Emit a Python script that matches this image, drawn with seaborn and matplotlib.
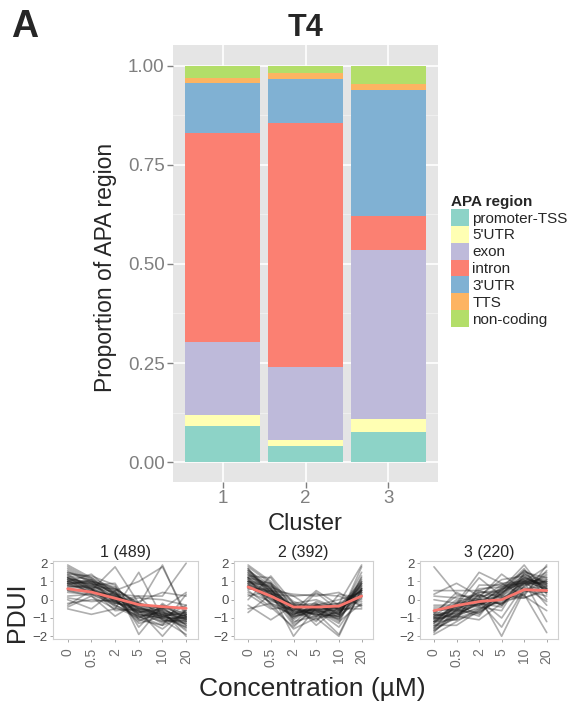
import pandas as pd
import matplotlib
matplotlib.use('Agg')
import matplotlib.pyplot as plt
import seaborn as sns
from matplotlib.patches import Patch

sns.set_theme(style='white')
plt.rcParams['font.family'] = ['Liberation Sans', 'DejaVu Sans']

# Proportions of APA region per cluster
clusters = ['1', '2', '3']
regions = ['promoter-TSS', "5'UTR", 'exon', 'intron', "3'UTR", 'TTS', 'non-coding']
region_colors = ['#8DD3C7', '#FFFFB3', '#BEBADA', '#FB8072', '#80B1D3', '#FDB462', '#B3DE69']
promoter_tss = [0.091, 0.041, 0.075]
utr5 = [0.029, 0.014, 0.033]
exon = [0.182, 0.186, 0.427]
intron = [0.529, 0.614, 0.086]
utr3 = [0.124, 0.111, 0.318]
tts = [0.015, 0.016, 0.014]
non_coding = [0.030, 0.018, 0.047]

# PDUI profiles (representative traces) and cluster means
conc_labels = ['0', '0.5', '2', '5', '10', '20']
cluster_titles = ['1 (489)', '2 (392)', '3 (220)']
mean_c1 = [0.6, 0.42, 0.08, -0.27, -0.38, -0.47]
mean_c2 = [0.7, 0.2, -0.4, -0.4, -0.35, 0.2]
mean_c3 = [-0.6, -0.32, -0.1, 0.0, 0.55, 0.5]

profiles_c1 = [
    [1.9, 1.2, 0.6, -0.2, -0.5, -1.2], [1.5, 1.0, 0.3, -0.5, -0.8, -1.0],
    [1.2, 0.8, 0.2, -0.8, -1.0, -1.5], [1.0, 0.6, 0.0, -1.0, -0.6, -0.9],
    [0.9, 0.9, 0.4, -0.6, -1.3, -0.8], [0.8, 0.5, -0.2, -0.4, -0.9, -1.3],
    [1.3, 1.1, 0.5, -1.5, -0.2, -1.1], [0.6, 0.4, 0.2, -0.2, -0.7, -1.7],
    [1.1, 0.3, -0.3, -0.9, -1.6, -0.6], [0.7, 0.7, 0.6, -0.3, -0.4, -1.4],
    [1.6, 0.9, -0.1, -0.7, -0.9, -0.7], [1.4, 1.3, 0.8, -1.9, -0.3, -1.0],
    [0.5, 0.2, -0.5, -0.6, -2.0, -0.5], [1.0, 1.4, 0.3, 0.2, -1.1, -1.9],
    [1.2, 0.5, 0.0, -1.2, -0.5, -0.4], [0.9, 0.6, -0.6, -0.5, -1.2, -1.1],
    [1.7, 1.0, 0.7, -0.4, -0.8, -1.6], [0.4, 0.3, 0.1, -0.7, -0.3, -0.8],
    [1.1, 0.8, 0.9, -1.1, -1.4, 0.3], [0.8, 1.1, -0.2, -0.3, -0.6, -2.0],
    [1.0, 0.9, 0.1, -0.6, -0.9, -1.2], [1.3, 0.7, 0.4, -0.9, -0.7, -0.9],
    [0.9, 0.4, -0.1, -0.8, -1.0, -1.0], [1.5, 1.2, 0.2, -0.3, -1.1, -1.3],
    [0.7, 0.8, 0.0, -1.1, -0.8, -0.6], [1.2, 0.9, 0.5, -0.5, -0.6, -1.4],
    [0.8, 0.6, -0.3, -0.9, -1.4, -0.9], [1.1, 1.0, 0.3, -0.7, -0.5, -1.1],
    [1.4, 0.6, 0.1, -1.3, -0.9, -0.7], [0.6, 0.5, 0.2, -0.4, -1.1, -1.2],
    [1.0, 0.7, -0.1, -0.6, -0.8, -1.5], [1.8, 1.1, 0.4, -0.8, -1.2, -0.8],
    [0.9, 1.0, 0.6, -0.2, -1.0, -1.0], [1.2, 0.6, -0.4, -1.0, -0.4, -0.9],
    [0.5, 0.4, 0.3, -0.5, -0.7, -1.1],
    [-0.5, -0.8, -0.5, 1.5, -1.0, -0.3], [-0.3, 0.5, 1.8, -0.2, -0.5, 0.4],
    [0.1, -0.1, 0.0, -0.3, 1.9, -1.0], [-0.2, 0.0, -0.1, 0.2, 0.2, 2.0],
    [0.0, -0.5, 0.5, 1.0, 1.8, -0.8], [-0.4, 0.2, -0.9, -0.1, 0.4, 0.2],
    [0.2, 0.3, -0.2, 0.1, 0.0, -0.3],
]
profiles_c2 = [
    [1.9, 1.0, -0.5, -0.6, -0.8, 1.2], [1.5, 0.6, -0.8, -0.3, -0.5, 0.8],
    [1.2, 0.9, -1.2, -0.9, -0.3, 0.5], [1.0, 0.3, -0.3, -0.2, -1.0, 1.8],
    [0.8, 0.0, -0.6, -1.0, -0.7, 0.2], [1.4, 0.4, -2.0, -0.4, -0.2, 0.0],
    [0.6, 0.5, -0.4, -0.7, -1.9, 0.6], [1.1, -0.2, -0.9, 0.4, -0.6, -0.3],
    [0.9, 0.8, -0.2, -1.4, -0.4, 1.0], [1.7, 0.2, -0.7, -0.5, -1.2, -0.2],
    [0.5, -0.4, -1.5, -0.3, 0.0, 0.4], [1.3, 1.2, -0.5, -0.8, -0.9, 1.5],
    [0.7, 0.1, -1.0, -0.1, -0.5, -0.5], [1.0, 0.7, 0.2, -0.6, -1.5, 0.3],
    [0.4, -0.1, -0.3, -0.9, -0.2, 1.9], [1.6, 0.6, -1.3, -0.2, -0.8, 0.9],
    [0.8, 0.4, -0.6, 0.5, -0.3, -0.1], [1.2, -0.3, -0.8, -0.4, -1.1, 0.7],
    [0.3, -0.5, -0.4, -1.2, 0.3, 0.1], [1.8, 0.9, -0.1, -0.5, -0.6, 0.4],
    [1.2, 0.5, -0.6, -0.6, -0.7, 0.6], [1.0, 0.4, -0.8, -0.5, -0.6, 0.9],
    [1.4, 0.7, -0.5, -0.8, -0.9, 0.4], [0.9, 0.2, -1.0, -0.4, -0.5, 0.7],
    [1.6, 0.8, -0.7, -0.7, -0.8, 1.1], [1.1, 0.1, -0.4, -0.9, -1.0, 0.3],
    [0.7, 0.3, -0.9, -0.6, -0.4, 0.5], [1.3, 0.6, -1.1, -0.3, -0.7, 0.8],
    [0.8, -0.2, -0.6, -0.8, -0.9, 0.1], [1.5, 0.5, -0.3, -0.6, -1.3, 1.3],
    [1.0, 0.9, -0.7, -1.1, -0.6, 0.6], [1.2, 0.3, -1.4, -0.5, -0.4, 0.2],
    [0.6, 0.6, -0.5, -0.3, -0.8, 1.0], [1.7, 0.4, -0.9, -0.7, -0.5, 0.5],
    [0.9, 0.0, -0.2, -0.5, -1.1, 0.9],
    [-0.7, 0.3, 0.2, 0.3, 0.2, -0.3], [-0.3, -1.1, -0.3, -0.3, -0.2, 0.5],
    [0.2, 0.5, 0.3, 0.2, 0.4, -0.4], [0.0, 1.3, -0.2, 0.0, -0.5, 0.2],
    [-0.5, -0.2, -1.6, -1.0, -2.0, 0.6],
]
profiles_c3 = [
    [-1.9, -1.2, -0.5, 0.2, 1.2, 0.8], [-1.5, -0.8, -0.2, 0.6, 1.9, 0.3],
    [-1.2, -0.6, 0.3, -0.3, 0.9, 1.5], [-1.0, -0.3, -0.8, 0.4, 1.0, 1.0],
    [-0.8, -1.0, 0.1, 1.4, 0.5, 0.2], [-1.3, -0.1, -0.4, -0.6, 1.4, 0.6],
    [-0.6, -0.5, 0.5, 0.9, 0.2, 1.9], [-1.7, -0.9, -1.1, -0.2, 0.7, -0.1],
    [-0.9, 0.0, -0.3, 0.3, 1.6, 0.9], [-1.1, -0.7, 0.0, -1.0, 0.8, 1.3],
    [-0.4, -0.4, 0.6, 0.7, 1.1, -0.3], [-1.4, -1.4, -0.6, 0.0, 0.4, 1.1],
    [-0.7, 0.2, 0.2, 1.1, 1.3, 0.5], [-1.0, -0.9, -0.1, -1.5, 0.6, 0.7],
    [-1.6, -0.2, 0.4, 0.5, 1.7, 0.0], [-0.5, -0.6, -0.7, 0.1, 0.3, 1.6],
    [-1.2, -1.1, 0.8, 0.8, 0.9, 0.4], [-0.8, 0.4, -0.2, -0.4, 1.5, 1.2],
    [-0.3, -0.3, 1.2, 0.2, 0.1, 0.6], [-1.8, -0.5, -0.9, 0.6, 1.0, 1.8],
    [-1.2, -0.7, -0.3, 0.3, 1.1, 0.8], [-1.0, -0.5, 0.0, 0.2, 0.9, 0.9],
    [-1.4, -0.9, -0.4, 0.5, 1.3, 0.6], [-0.9, -0.6, -0.2, 0.0, 1.0, 1.1],
    [-1.6, -1.0, -0.6, 0.4, 1.2, 0.7], [-1.1, -0.4, 0.1, 0.6, 0.8, 1.0],
    [-0.7, -0.8, -0.5, -0.1, 1.1, 0.5], [-1.3, -0.6, 0.2, 0.3, 1.4, 0.9],
    [-1.5, -0.3, -0.3, 0.7, 0.9, 1.2], [-0.8, -0.9, 0.3, -0.3, 1.0, 0.6],
    [-1.2, -0.2, -0.1, 0.5, 1.6, 0.8], [-1.0, -1.1, -0.7, 0.1, 0.7, 1.4],
    [-0.6, -0.4, 0.4, 0.4, 1.2, 0.7], [-1.7, -0.8, -0.2, -0.2, 0.9, 1.0],
    [-0.9, -0.5, 0.0, 0.8, 1.5, 0.4],
    [1.8, 0.3, 0.0, -0.2, 0.3, -1.8], [0.5, 0.5, 0.5, 0.1, 0.2, -0.6],
    [0.3, 0.9, 0.2, -2.0, 0.5, 0.4], [0.0, -0.2, 1.5, 0.9, 1.0, -1.2],
    [0.2, 0.1, -0.1, 0.0, 0.1, 0.5],
]

W, H = 571, 709
fig = plt.figure(figsize=(W / 100, H / 100), dpi=100)


def px_axes(x0, y0, x1, y1):
    return fig.add_axes([x0 / W, 1 - y1 / H, (x1 - x0) / W, (y1 - y0) / H])


# ---- stacked bar chart ----
ax = px_axes(173, 45, 438, 482)
ax.set_facecolor('#E5E5E5')
layers = [promoter_tss, utr5, exon, intron, utr3, tts, non_coding]
df = pd.DataFrame(dict(zip(regions, layers)), index=clusters)
cum = df.cumsum(axis=1)
# draw the tallest (cumulative) bar first, then overlay the lower layers
for reg, col in reversed(list(zip(regions, region_colors))):
    sns.barplot(x=clusters, y=cum[reg].values, color=col, saturation=1,
                width=0.9, linewidth=0, ax=ax, zorder=3)
ax.set_xlim(-0.6, 2.6)
ax.set_ylim(-0.05, 1.052)
ax.set_yticks([0, 0.25, 0.5, 0.75, 1.0])
ax.set_yticklabels(['0.00', '0.25', '0.50', '0.75', '1.00'])
ax.set_yticks([0.125, 0.375, 0.625, 0.875], minor=True)
ax.grid(True, which='major', color='white', lw=1.2, zorder=0)
ax.grid(True, which='minor', axis='y', color='#F2F2F2', lw=0.6, zorder=0)
ax.set_axisbelow(True)
for s in ax.spines.values():
    s.set_visible(False)
ax.tick_params(axis='both', which='major', length=4, width=1, color='#7F7F7F',
               labelcolor='#7F7F7F', labelsize=13.5, pad=2, bottom=True, left=True)
ax.tick_params(which='minor', length=0)
ax.set_xlabel('Cluster', fontsize=17, labelpad=4)
ax.set_ylabel('Proportion of APA region', fontsize=16.5)
ax.yaxis.set_label_coords(-0.21, 0.49)

fig.text(25 / W, 1 - 27 / H, 'A', fontsize=27, fontweight='bold', ha='center', va='center')
fig.text(306 / W, 1 - 28 / H, 'T4', fontsize=22, fontweight='bold', ha='center', va='center')

handles = [Patch(facecolor=c, edgecolor='none', label=r) for r, c in zip(regions, region_colors)]
fig.legend(handles=handles, loc='upper left', bbox_to_anchor=(451 / W, 1 - 195 / H),
           frameon=False, fontsize=11, title='APA region',
           title_fontproperties={'weight': 'bold', 'size': 11},
           handlelength=1.2, handleheight=1.32, labelspacing=0, handletextpad=0.2,
           borderpad=0, borderaxespad=0, alignment='left')

# ---- PDUI profile panels ----
panel_x = [(53, 198), (234, 373), (420, 558)]
profile_sets = [profiles_c1, profiles_c2, profiles_c3]
means = [mean_c1, mean_c2, mean_c3]
positions = list(range(len(conc_labels)))
for i, (x0, x1) in enumerate(panel_x):
    pax = px_axes(x0, 561, x1, 639)
    pax.set_facecolor('white')
    rows = []
    for u, prof in enumerate(profile_sets[i]):
        for p, v in zip(positions, prof):
            rows.append({'unit': u, 'pos': p, 'pdui': v})
    long_df = pd.DataFrame(rows)
    sns.lineplot(data=long_df, x='pos', y='pdui', units='unit', estimator=None,
                 color='#1A1A1A', alpha=0.35, lw=1.2, ax=pax)
    sns.lineplot(x=positions, y=means[i], color='#F8766D', lw=2, ax=pax)
    pax.set_xlim(-0.62, 5.5)
    pax.set_ylim(-2.15, 2.12)
    pax.set_xticks(positions)
    pax.set_xticklabels(conc_labels, rotation=90)
    pax.set_yticks([-2, -1, 0, 1, 2])
    pax.set_yticklabels(['\u22122', '\u22121', '0', '1', '2'])
    pax.set_xlabel('')
    pax.set_ylabel('')
    pax.set_title(cluster_titles[i], fontsize=11.5, pad=3)
    for s in pax.spines.values():
        s.set_color('#D0D0D0')
        s.set_linewidth(0.8)
    pax.tick_params(axis='x', length=2.5, width=0.6, color='#999999',
                    labelcolor='#6E6E6E', labelsize=10, pad=4, bottom=True)
    pax.tick_params(axis='y', length=2.5, width=0.6, color='#999999',
                    labelcolor='#4D4D4D', labelsize=9.5, pad=1.5, left=True)

fig.text(17 / W, 1 - 612 / H, 'PDUI', fontsize=18, rotation=90, ha='center', va='center')
fig.text(312 / W, 1 - 689 / H, 'Concentration (\u00b5M)', fontsize=19, ha='center', va='center')

fig.savefig('out.png', dpi=100)
